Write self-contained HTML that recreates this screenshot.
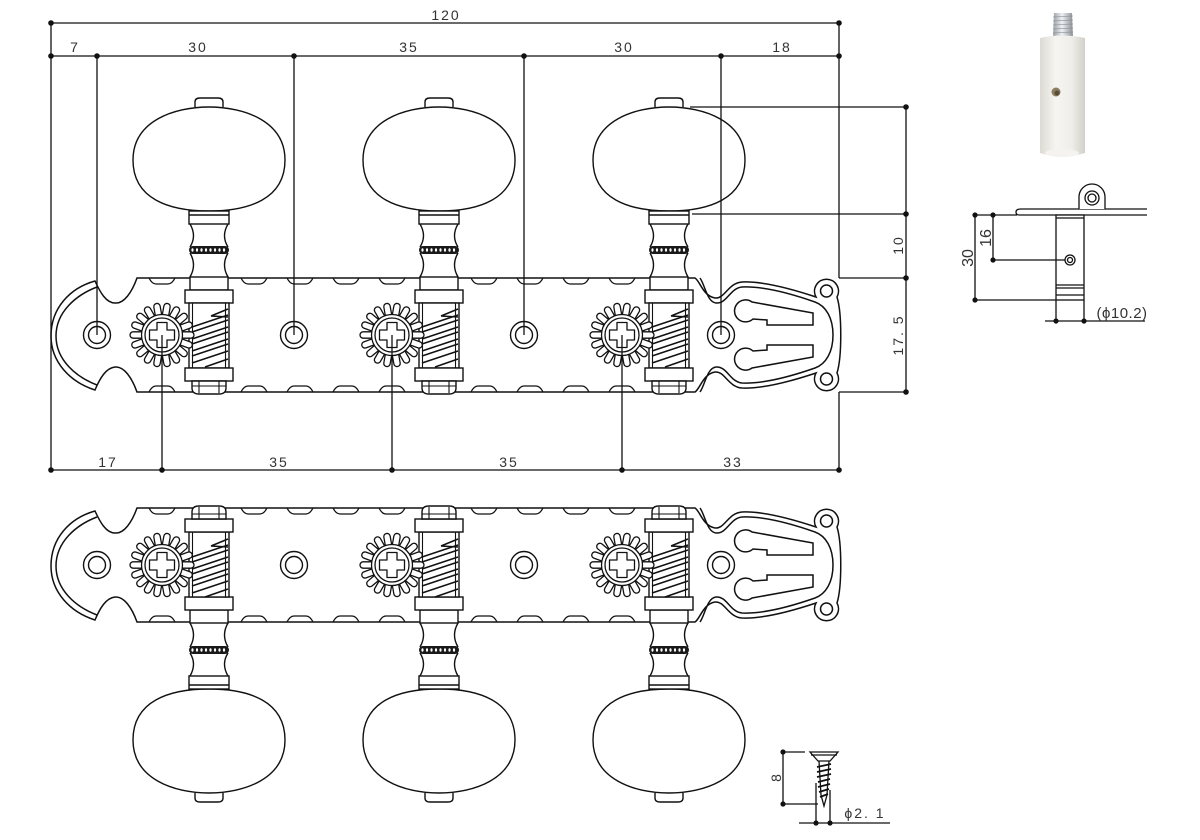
<!DOCTYPE html>
<html><head><meta charset="utf-8"><style>
html,body{margin:0;padding:0;background:#fff;}
svg{display:block}
text{font-family:"Liberation Sans","DejaVu Sans",sans-serif;fill:#333;}
</style></head><body>
<svg width="1200" height="840" viewBox="0 0 1200 840" xmlns="http://www.w3.org/2000/svg">
<defs>
 <linearGradient id="sl" x1="0" x2="1" y1="0" y2="0">
  <stop offset="0" stop-color="#dcdad3"/><stop offset="0.35" stop-color="#f6f5f1"/><stop offset="0.7" stop-color="#efeee9"/><stop offset="1" stop-color="#d2d0c9"/>
 </linearGradient>
 <linearGradient id="mt" x1="0" x2="1" y1="0" y2="0">
  <stop offset="0" stop-color="#9aa0a6"/><stop offset="0.45" stop-color="#eef1f3"/><stop offset="1" stop-color="#8a9197"/>
 </linearGradient>

 <g id="plate" fill="none" stroke="#111" stroke-width="1.5">
  <path fill="#fff" d="M137,278 L695,278 C700,281 703,296 715,298 C725,299 728,283 742,282 C765,281 795,290 816,297 A12,12 0 1 1 837,297 C842,313 842,357 837,373 A12,12 0 1 1 816,373 C795,380 765,389 742,388 C728,387 725,371 715,372 C703,374 700,389 695,392 L137,392 C132,378 124,366 115,367 C106,368 100,378 95,390 C70,382 51,362 51,336 C51,308 70,288 95,281 C100,292 106,303 115,303 C124,304 132,292 137,278 Z"/>
  <path d="M97,287 C76,295 56,312 56,336 C56,360 76,377 97,385"/>
  <path d="M700,278 C705,285 707,302 716,303 C727,304 730,288 742,287 C765,286 795,295 815,302 C826,306 833,318 833,335 C833,352 826,364 815,368 C795,375 765,384 742,383 C730,382 727,366 716,367 C707,368 705,385 700,392"/>
  <circle cx="826.5" cy="291" r="6"/>
  <circle cx="826.5" cy="379" r="6"/>
  <path d="M752,302 L813,313 L813,325 L767,325 L767,320 L753,319 A11,11 0 1 1 752,302 Z"/>
  <path d="M752,368 L813,357 L813,345 L767,345 L767,350 L753,351 A11,11 0 1 0 752,368 Z"/>
  <g stroke-width="1.4">
   <circle cx="97" cy="335" r="13.5"/><circle cx="97" cy="335" r="8.5"/>
   <circle cx="294" cy="335" r="13.5"/><circle cx="294" cy="335" r="8.5"/>
   <circle cx="524" cy="335" r="13.5"/><circle cx="524" cy="335" r="8.5"/>
   <circle cx="721" cy="335" r="13.5"/><circle cx="721" cy="335" r="8.5"/>
  </g>
  <g stroke-width="1.3">
   <path d="M149,278 Q152,284 156,284 L168,284 Q172,284 175,278 M149,392 Q152,386 156,386 L168,386 Q172,386 175,392"/>
   <path d="M241,278 Q244,284 248,284 L260,284 Q264,284 267,278 M241,392 Q244,386 248,386 L260,386 Q264,386 267,392"/>
   <path d="M287,278 Q290,284 294,284 L306,284 Q310,284 313,278 M287,392 Q290,386 294,386 L306,386 Q310,386 313,392"/>
   <path d="M333,278 Q336,284 340,284 L352,284 Q356,284 359,278 M333,392 Q336,386 340,386 L352,386 Q356,386 359,392"/>
   <path d="M379,278 Q382,284 386,284 L398,284 Q402,284 405,278 M379,392 Q382,386 386,386 L398,386 Q402,386 405,392"/>
   <path d="M471,278 Q474,284 478,284 L490,284 Q494,284 497,278 M471,392 Q474,386 478,386 L490,386 Q494,386 497,392"/>
   <path d="M517,278 Q520,284 524,284 L536,284 Q540,284 543,278 M517,392 Q520,386 524,386 L536,386 Q540,386 543,392"/>
   <path d="M563,278 Q566,284 570,284 L582,284 Q586,284 589,278 M563,392 Q566,386 570,386 L582,386 Q586,386 589,392"/>
   <path d="M609,278 Q612,284 616,284 L628,284 Q632,284 635,278 M609,392 Q612,386 616,386 L628,386 Q632,386 635,392"/>
  </g>
 </g>

 <g id="peg" stroke="#111" stroke-width="1.4" fill="#fff">
  <path d="M195,107 L195,102 Q195,98 200,98 L218,98 Q223,98 223,102 L223,107"/>
  <path d="M133,160 C133,121 174,107 209,107 C244,107 285,121 285,160 C285,199 249,211 209,211 C169,211 133,199 133,160 Z"/>
  <rect x="189" y="211" width="40" height="13"/>
  <path d="M189,215 L229,215" fill="none"/>
  <path d="M190,224 Q197,236 190,247 M228,224 Q221,236 228,247 M190,253 Q197,265 190,277 M228,253 Q221,265 228,277" fill="none"/>
  <rect x="189" y="246" width="40" height="8" rx="4" fill="#1a1a1a" stroke="none"/>
  <g fill="#fff" stroke="none">
   <ellipse cx="192.5" cy="250" rx="1.1" ry="1.7"/><ellipse cx="197" cy="250" rx="1.1" ry="1.7"/><ellipse cx="201.5" cy="250" rx="1.1" ry="1.7"/><ellipse cx="206" cy="250" rx="1.1" ry="1.7"/><ellipse cx="210.5" cy="250" rx="1.1" ry="1.7"/><ellipse cx="215" cy="250" rx="1.1" ry="1.7"/><ellipse cx="219.5" cy="250" rx="1.1" ry="1.7"/><ellipse cx="224" cy="250" rx="1.1" ry="1.7"/>
  </g>
  <rect x="190" y="277" width="38" height="13"/>
  <rect x="185" y="290" width="48" height="13"/>
  <rect x="189" y="303" width="40" height="65"/>
  <path d="M192.5,303 L192.5,368 M225.5,303 L225.5,368" fill="none" stroke-width="1.1"/>
  <rect x="185" y="368" width="48" height="13"/>
  <path d="M192,381 L192,388 Q192,394 199,394 L219,394 Q226,394 226,388 L226,381 Z"/>
  <path d="M199,381 L199,393 M219,381 L219,393 M192,386 L226,386" fill="none" stroke-width="1.1"/>
 </g>

 <g id="thr" stroke="#111" stroke-width="1.5" fill="none">
  <path d="M211,316 L228,309 M211,316 L228,317"/>
  <path d="M192,327 L228,315 M192,332 L228,320 M192,339 L228,327 M192,344 L228,332 M192,351 L228,339 M192,356 L228,344 M192,363 L228,351 M205,367 L228,359"/>
 </g>

 <g id="gear" stroke="#111" stroke-width="1.3">
  <g fill="#fff">
   <rect x="-3.2" y="-32" width="6.4" height="14" rx="3.2" transform="rotate(10)"/>
   <rect x="-3.2" y="-32" width="6.4" height="14" rx="3.2" transform="rotate(30)"/>
   <rect x="-3.2" y="-32" width="6.4" height="14" rx="3.2" transform="rotate(50)"/>
   <rect x="-3.2" y="-32" width="6.4" height="14" rx="3.2" transform="rotate(70)"/>
   <rect x="-3.2" y="-32" width="6.4" height="14" rx="3.2" transform="rotate(90)"/>
   <rect x="-3.2" y="-32" width="6.4" height="14" rx="3.2" transform="rotate(110)"/>
   <rect x="-3.2" y="-32" width="6.4" height="14" rx="3.2" transform="rotate(130)"/>
   <rect x="-3.2" y="-32" width="6.4" height="14" rx="3.2" transform="rotate(150)"/>
   <rect x="-3.2" y="-32" width="6.4" height="14" rx="3.2" transform="rotate(170)"/>
   <rect x="-3.2" y="-32" width="6.4" height="14" rx="3.2" transform="rotate(190)"/>
   <rect x="-3.2" y="-32" width="6.4" height="14" rx="3.2" transform="rotate(210)"/>
   <rect x="-3.2" y="-32" width="6.4" height="14" rx="3.2" transform="rotate(230)"/>
   <rect x="-3.2" y="-32" width="6.4" height="14" rx="3.2" transform="rotate(250)"/>
   <rect x="-3.2" y="-32" width="6.4" height="14" rx="3.2" transform="rotate(270)"/>
   <rect x="-3.2" y="-32" width="6.4" height="14" rx="3.2" transform="rotate(290)"/>
   <rect x="-3.2" y="-32" width="6.4" height="14" rx="3.2" transform="rotate(310)"/>
   <rect x="-3.2" y="-32" width="6.4" height="14" rx="3.2" transform="rotate(330)"/>
   <rect x="-3.2" y="-32" width="6.4" height="14" rx="3.2" transform="rotate(350)"/>
  </g>
  <circle r="20.5" fill="#fff"/>
  <circle r="17" fill="none"/>
  <path fill="none" stroke-linejoin="round" d="M-5,-12.5 L5,-12.5 L5,-5 L12.5,-5 L12.5,5 L5,5 L5,12.5 L-5,12.5 L-5,5 L-12.5,5 L-12.5,-5 L-5,-5 Z"/>
 </g>

 <g id="mech">
  <use href="#thr"/>
  <use href="#thr" transform="translate(230,0)"/>
  <use href="#thr" transform="translate(460,0)"/>
  <use href="#gear" transform="translate(162,335)"/>
  <use href="#gear" transform="translate(392,335)"/>
  <use href="#gear" transform="translate(622,335)"/>
 </g>
</defs>

<rect x="0" y="0" width="1200" height="840" fill="#fff"/>

<!-- top view -->
<use href="#plate"/>
<use href="#peg"/>
<use href="#peg" transform="translate(230,0)"/>
<use href="#peg" transform="translate(460,0)"/>
<use href="#mech"/>

<!-- bottom view -->
<use href="#plate" transform="translate(0,230)"/>
<use href="#peg" transform="translate(0,900) scale(1,-1)"/>
<use href="#peg" transform="translate(230,900) scale(1,-1)"/>
<use href="#peg" transform="translate(460,900) scale(1,-1)"/>
<use href="#mech" transform="translate(0,230)"/>

<!-- dimensions top view -->
<g stroke="#111" stroke-width="1.3" fill="none">
 <path d="M51,23 L839,23 M51,56 L839,56"/>
 <path d="M51,23 L51,470 M51,470 L839,470"/>
 <path d="M97,56 L97,335 M294,56 L294,335 M524,56 L524,335 M721,56 L721,335"/>
 <path d="M839,23 L839,278 M839,392 L839,470"/>
 <path d="M162,335 L162,470 M392,335 L392,470 M622,335 L622,470"/>
 <path d="M690,107 L906,107 M692,214 L906,214 M839,278 L906,278 M839,392 L906,392 M906,107 L906,392"/>
</g>
<g fill="#111">
 <circle cx="51" cy="23" r="2.8"/><circle cx="839" cy="23" r="2.8"/>
 <circle cx="51" cy="56" r="2.8"/><circle cx="97" cy="56" r="2.8"/><circle cx="294" cy="56" r="2.8"/><circle cx="524" cy="56" r="2.8"/><circle cx="721" cy="56" r="2.8"/><circle cx="839" cy="56" r="2.8"/>
 <circle cx="51" cy="470" r="2.8"/><circle cx="162" cy="470" r="2.8"/><circle cx="392" cy="470" r="2.8"/><circle cx="622" cy="470" r="2.8"/><circle cx="839" cy="470" r="2.8"/>
 <circle cx="906" cy="107" r="2.8"/><circle cx="906" cy="214" r="2.8"/><circle cx="906" cy="278" r="2.8"/><circle cx="906" cy="392" r="2.8"/>
</g>
<g font-size="14" letter-spacing="2" text-anchor="middle">
 <text x="446" y="20">120</text>
 <text x="75" y="52">7</text>
 <text x="198" y="52">30</text>
 <text x="409" y="52">35</text>
 <text x="624" y="52">30</text>
 <text x="782" y="52">18</text>
 <text x="108" y="467">17</text>
 <text x="279" y="467">35</text>
 <text x="509" y="467">35</text>
 <text x="733" y="467">33</text>
 <text transform="translate(903,245) rotate(-90)">10</text>
 <text transform="translate(903,335) rotate(-90)">17. 5</text>
</g>

<!-- photo of sleeve -->
<path d="M1054,13 L1072,13 L1073,38 L1053,38 Z" fill="url(#mt)"/>
<g stroke="#7d848a" stroke-width="0.8" opacity="0.7">
 <path d="M1053,17 L1073,16 M1053,21 L1073,20 M1053,25 L1073,24 M1053,29 L1073,28 M1053,33 L1073,32"/>
</g>
<path d="M1040,38 Q1062,33 1085,38 L1085,153 Q1062,160 1040,153 Z" fill="url(#sl)"/>
<ellipse cx="1062" cy="153" rx="17" ry="4" fill="#f4f3ef"/>
<circle cx="1056" cy="92" r="4.5" fill="#8b7d62"/>
<circle cx="1057" cy="93" r="2.5" fill="#5a4d38"/>

<!-- side diagram -->
<g stroke="#111" stroke-width="1.3" fill="none">
 <path d="M1021,209 L1147,209 M1019,215 L1147,215 M1021,209 Q1016,209 1016,212 Q1016,215 1019,215"/>
 <path d="M1079,209 L1079,197 A13,13 0 0 1 1105,197 L1105,209" fill="#fff"/>
 <circle cx="1092" cy="198" r="7"/>
 <circle cx="1092" cy="198" r="4"/>
 <rect x="1056" y="215" width="28" height="85" fill="#fff"/>
 <path d="M1056,218 L1084,218 M1056,285 L1084,285 M1056,288 L1084,288 M1056,295 L1084,295"/>
 <circle cx="1070" cy="260" r="5"/>
 <circle cx="1070" cy="260" r="2.5"/>
 <path d="M975,215 L975,300 M975,215 L1017,215 M975,300 L1056,300"/>
 <path d="M993,215 L993,260 M993,260 L1065,260"/>
 <path d="M1045,321 L1145,321 M1056,300 L1056,321 M1084,300 L1084,321"/>
</g>
<g fill="#111">
 <circle cx="975" cy="215" r="2.6"/><circle cx="975" cy="300" r="2.6"/>
 <circle cx="993" cy="215" r="2.6"/><circle cx="993" cy="260" r="2.6"/>
 <circle cx="1056" cy="321" r="2.6"/><circle cx="1084" cy="321" r="2.6"/>
</g>
<g font-size="16" text-anchor="middle">
 <text transform="translate(973,258) rotate(-90)">30</text>
 <text transform="translate(991,238) rotate(-90)">16</text>
</g>
<text x="1122" y="318" font-size="15" letter-spacing="0.5" text-anchor="middle">(ϕ10.2)</text>

<!-- screw -->
<g stroke="#111" stroke-width="1.3" fill="none">
 <path d="M810,752 L838,752 L830,761 L818,761 Z" fill="#fff"/>
 <path d="M811,755 L837,755"/>
 <path d="M819,761 L821,795 L824,806 L827,795 L829,761"/>
 <path d="M817,767 L831,764 M817,772 L831,769 M817,777 L831,774 M818,782 L830,779 M818,787 L830,784 M819,792 L829,789 M820,797 L828,794" stroke-width="1.8"/>
 <path d="M783,752 L783,804 M783,752 L805,752 M783,804 L818,804"/>
 <path d="M816,783 L816,823 M830,790 L830,823 M799,823 L890,823"/>
</g>
<g fill="#111">
 <circle cx="783" cy="752" r="2.6"/><circle cx="783" cy="804" r="2.6"/>
 <circle cx="816" cy="823" r="2.6"/><circle cx="830" cy="823" r="2.6"/>
</g>
<text transform="translate(781,778) rotate(-90)" font-size="14" text-anchor="middle">8</text>
<text x="865" y="818" font-size="14" letter-spacing="2" text-anchor="middle">ϕ2. 1</text>
</svg>
</body></html>
